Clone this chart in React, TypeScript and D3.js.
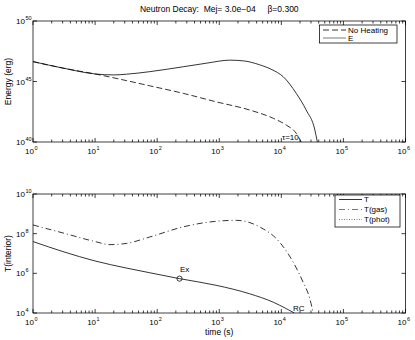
import React from 'react';
import * as d3 from 'd3';

// values (t in s)
const tE = [1, 3.16, 10, 20, 32, 76, 263, 630, 1480, 2510, 4470, 7080, 10700, 17400, 25100, 34700, 38000];
const energyE = [4.4e46, 1.23e46, 4.2e45, 3.5e45, 4.0e45, 6.5e45, 1.66e46, 3.3e46, 5.8e46, 5.0e46, 2.4e46, 9.5e45, 2.5e45, 1.05e44, 4.4e42, 9.8e40, 1e40];

const tNoHeat = [1, 3.16, 10, 31.6, 76, 263, 890, 3090, 7410, 12000, 17400, 20900];
const energyNoHeat = [4.4e46, 1.23e46, 4.2e45, 1.2e45, 4.4e44, 1.05e44, 2.1e43, 4.4e42, 9.1e41, 2.5e41, 5.2e40, 1e40];

const tT = [1, 3.16, 10, 31.6, 76, 229, 890, 3090, 7410, 12000, 16200];
const tempT = [4.0e7, 1.2e7, 4.2e6, 1.86e6, 1.07e6, 5.4e5, 2.5e5, 9.3e4, 3.5e4, 1.66e4, 1e4];

const tGas = [1, 3.16, 10, 17.4, 31.6, 76, 263, 708, 1900, 4470, 9330, 15500, 22400, 28800, 32400];
const tempGas = [2.75e8, 1.05e8, 4.0e7, 2.8e7, 3.2e7, 6.8e7, 2.2e8, 3.9e8, 4.7e8, 2.2e8, 3.8e7, 3.7e6, 3.6e5, 5.2e4, 1.1e4];

const exPoint = { t: 229, T: 5.4e5 };

const xDecades = [0, 1, 2, 3, 4, 5, 6];
const topYDecades = [40, 45, 50];
const botYDecades = [4, 6, 8, 10];

const font = '"Liberation Sans", Arial, Helvetica, sans-serif';
const L = 33, R = 405.5;

const x = d3.scaleLog().domain([1, 1e6]).range([L, R]);

function Pow({ px, py, exp, anchor }: { px: number; py: number; exp: number; anchor: 'x' | 'y' }) {
  // "10" followed by a small raised exponent
  const bx = anchor === 'x' ? px + 1 : 25;
  return (
    <g fontFamily={font}>
      <text x={bx} y={py} fontSize={8} textAnchor="end">10</text>
      <text x={bx + 0.5} y={py - 4} fontSize={5.5}>{exp}</text>
    </g>
  );
}

function Frame({ y, yDec, top, bottom }: { y: any; yDec: number[]; top: number; bottom: number }) {
  const minors: number[] = [];
  for (let k = 0; k < 6; k++) for (let m = 2; m < 10; m++) minors.push(m * Math.pow(10, k));
  return (
    <g stroke="#000" strokeWidth={0.75} fill="none">
      <rect x={L} y={top} width={R - L} height={bottom - top} />
      {xDecades.map(d => {
        const px = x(Math.pow(10, d));
        return (
          <g key={'M' + d}>
            <line x1={px} x2={px} y1={bottom} y2={bottom - 4} />
            <line x1={px} x2={px} y1={top} y2={top + 4} />
          </g>
        );
      })}
      {minors.map(v => (
        <g key={'m' + v}>
          <line x1={x(v)} x2={x(v)} y1={bottom} y2={bottom - 2.5} />
          <line x1={x(v)} x2={x(v)} y1={top} y2={top + 2.5} />
        </g>
      ))}
      {yDec.map(d => {
        const py = y(Math.pow(10, d));
        return (
          <g key={'y' + d}>
            <line x1={L} x2={L + 4} y1={py} y2={py} />
            <line x1={R} x2={R - 4} y1={py} y2={py} />
          </g>
        );
      })}
    </g>
  );
}

function Labels({ y, yDec, bottom }: { y: any; yDec: number[]; bottom: number }) {
  return (
    <g fill="#000">
      {xDecades.map(d => (
        <Pow key={'x' + d} px={x(Math.pow(10, d))} py={bottom + 11.5} exp={d} anchor="x" />
      ))}
      {yDec.map(d => (
        <Pow key={'y' + d} px={0} py={y(Math.pow(10, d)) + 3} exp={d} anchor="y" />
      ))}
    </g>
  );
}

export default function App() {
  const yTop = d3.scaleLog().domain([1e40, 1e50]).range([142, 21]);
  const yBot = d3.scaleLog().domain([1e4, 1e10]).range([313, 194]);

  const mk = (ys: any) =>
    d3.line<[number, number]>()
      .x(d => x(d[0]))
      .y(d => ys(d[1]))
      .curve(d3.curveMonotoneX);

  const zip = (a: number[], b: number[]) => a.map((v, i) => [v, b[i]] as [number, number]);

  const lineTop = mk(yTop);
  const lineBot = mk(yBot);

  return (
    <svg width={415} height={340} style={{ position: 'absolute', left: 0, top: 0, background: '#fff' }}>
      <defs>
        <clipPath id="cTop"><rect x={L} y={21} width={R - L} height={121} /></clipPath>
        <clipPath id="cBot"><rect x={L} y={194} width={R - L} height={119} /></clipPath>
      </defs>
      <rect width={415} height={340} fill="#fff" />

      <text x={(L + R) / 2} y={12} fontFamily={font} fontSize={8.5} textAnchor="middle" xmlSpace="preserve">
        {'Neutron Decay:  Mej= 3.0e\u221204     \u03b2=0.300'}
      </text>

      {/* top panel */}
      <g clipPath="url(#cTop)" fill="none" stroke="#000" strokeWidth={0.8}>
        <path d={lineTop(zip(tNoHeat, energyNoHeat)) || ''} strokeDasharray="6,3" />
        <path d={lineTop(zip(tE, energyE)) || ''} />
      </g>
      <Frame y={yTop} yDec={topYDecades} top={21} bottom={142} />
      <Labels y={yTop} yDec={topYDecades} bottom={142} />
      <text x={282} y={140} fontFamily={font} fontSize={8}>{'\u03c4=10'}</text>
      <text transform={`translate(11,${(21 + 142) / 2}) rotate(-90)`} fontFamily={font} fontSize={8.5} textAnchor="middle">Energy (erg)</text>

      <g>
        <rect x={319.5} y={25} width={77.5} height={18} fill="#fff" stroke="#000" strokeWidth={0.75} />
        <line x1={323} x2={346} y1={30} y2={30} stroke="#000" strokeWidth={0.8} strokeDasharray="6,3" />
        <text x={348} y={32.8} fontFamily={font} fontSize={8}>No Heating</text>
        <line x1={323} x2={346} y1={38} y2={38} stroke="#999" strokeWidth={1.3} />
        <text x={348} y={40.8} fontFamily={font} fontSize={8}>E</text>
      </g>

      {/* bottom panel */}
      <g clipPath="url(#cBot)" fill="none" stroke="#000" strokeWidth={0.8}>
        <path d={lineBot(zip(tGas, tempGas)) || ''} strokeDasharray="6,3,1,3" />
        <path d={lineBot(zip(tT, tempT)) || ''} />
      </g>
      <circle cx={x(exPoint.t)} cy={yBot(exPoint.T)} r={2.6} fill="none" stroke="#000" strokeWidth={0.75} />
      <text x={180} y={272} fontFamily={font} fontSize={8}>Ex</text>
      <text x={293} y={311} fontFamily={font} fontSize={8}>RC</text>
      <Frame y={yBot} yDec={botYDecades} top={194} bottom={313} />
      <Labels y={yBot} yDec={botYDecades} bottom={313} />
      <text transform={`translate(11,${(194 + 313) / 2}) rotate(-90)`} fontFamily={font} fontSize={8.5} textAnchor="middle">T(interior)</text>
      <text x={(L + R) / 2} y={335} fontFamily={font} fontSize={8.5} textAnchor="middle">time (s)</text>

      <g>
        <rect x={335} y={195} width={65} height={32} fill="#fff" stroke="#000" strokeWidth={0.75} />
        <line x1={339} x2={362} y1={199.5} y2={199.5} stroke="#000" strokeWidth={0.8} />
        <text x={364} y={202.3} fontFamily={font} fontSize={8}>T</text>
        <line x1={339} x2={362} y1={209.5} y2={209.5} stroke="#555" strokeWidth={0.8} strokeDasharray="6,3,1,3" />
        <text x={364} y={212.3} fontFamily={font} fontSize={8}>T(gas)</text>
        <line x1={339} x2={362} y1={219.5} y2={219.5} stroke="#555" strokeWidth={0.8} strokeDasharray="1,1.5" />
        <text x={364} y={222.3} fontFamily={font} fontSize={8}>T(phot)</text>
      </g>
    </svg>
  );
}
